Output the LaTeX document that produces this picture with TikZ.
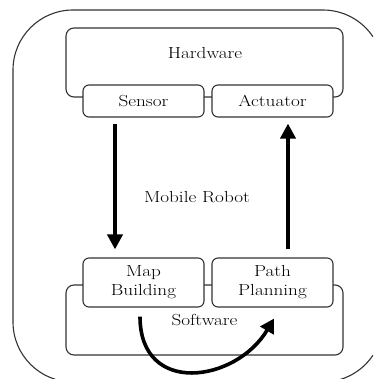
\documentclass[tikz,border=0pt]{standalone}
\usetikzlibrary{arrows.meta,calc}
\newcommand{\wt}[1]{\scalebox{1.2}[1]{#1}}
\begin{document}
\begin{tikzpicture}[x=1pt,y=-1pt,
  boxline/.style={draw=black!80,line width=1.1pt},
  unitbox/.style={boxline,rounded corners=6pt,fill=white,minimum width=121pt,inner sep=0pt,align=center,font=\fontsize{16}{19}\selectfont},
  groupbox/.style={boxline,rounded corners=8pt,minimum width=277pt,minimum height=70pt,inner sep=0pt,font=\fontsize{16}{19}\selectfont},
  lbl/.style={font=\fontsize{16}{19}\selectfont,inner sep=0pt},
  arr/.style={line width=4pt,-{Triangle[length=15pt,width=15pt]}},
  carr/.style={line width=3.6pt,-{Triangle[length=14pt,width=15pt]}}]
\useasboundingbox (0,0) rectangle (373,379);
\begin{scope}
\clip (0,0) rectangle (373,379);
\draw[boxline] (373,36.8) arc[start angle=-33.6, end angle=-90, radius=60]
  -- (73,10) arc[start angle=-90, end angle=-180, radius=60]
  -- (13,322) arc[start angle=180, end angle=90, radius=60]
  -- (323,382) arc[start angle=90, end angle=33.6, radius=60];
\end{scope}
% hardware group
\node[groupbox,minimum height=69pt] (hw) at (204.5,62.5) {};
\node[lbl] (hwl) at (205,53) {\wt{Hardware}};
\node[unitbox,minimum height=32pt] (sen) at (143.5,101) {\wt{Sensor}};
\node[unitbox,minimum height=32pt] (act) at (272.5,101) {\wt{Actuator}};
% software group
\node[groupbox] (sw) at (204.5,320) {\wt{Software}};
\node[unitbox,minimum height=49pt] (map) at (143.5,282.5) {\wt{Map}\\\wt{Building}};
\node[unitbox,minimum height=49pt] (path) at (272.5,282.5) {\wt{Path}\\\wt{Planning}};
% label
\node[lbl] (robot) at (197,197) {\wt{Mobile Robot}};
% arrows
\draw[arr] ($(sen.south)+(-28.5,6)$) -- ($(map.north)+(-28.5,-8)$);
\draw[arr] ($(path.north)+(15.5,-8)$) -- ($(act.south)+(15.5,6)$);
\draw[carr] ($(map.south)+(-3.5,9)$) .. controls +(0,80) and +(-38,64) .. ($(path.south)+(1.5,11)$);
\end{tikzpicture}
\end{document}
